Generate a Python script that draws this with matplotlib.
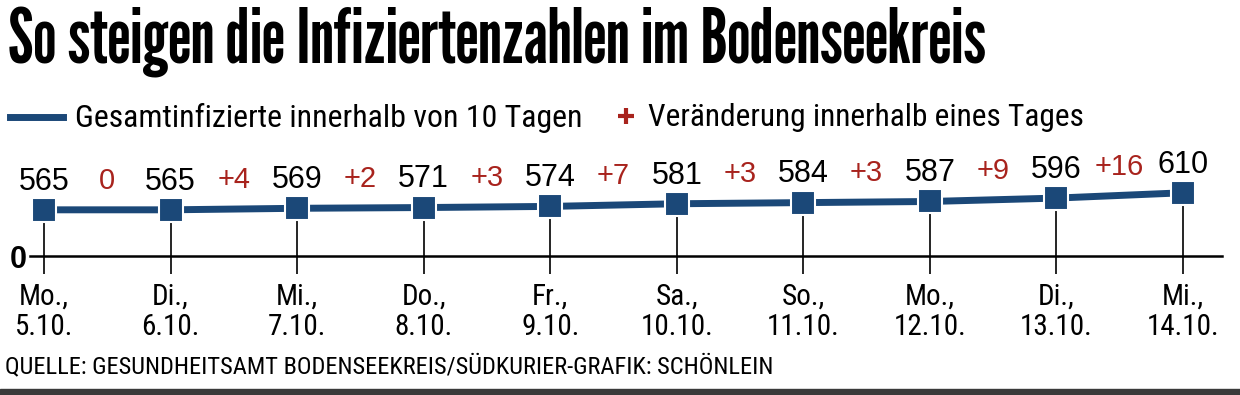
import matplotlib
matplotlib.use("Agg")
import matplotlib.pyplot as plt
from matplotlib import font_manager as fm
from matplotlib.lines import Line2D
from matplotlib.patches import Rectangle

# Werte aus der Grafik
days = ["Mo.,", "Di.,", "Mi.,", "Do.,", "Fr.,", "Sa.,", "So.,", "Mo.,", "Di.,", "Mi.,"]
dates = ["5.10.", "6.10.", "7.10.", "8.10.", "9.10.", "10.10.", "11.10.", "12.10.", "13.10.", "14.10."]
totals = [565, 565, 569, 571, 574, 581, 584, 587, 596, 610]
changes = ["0", "+4", "+2", "+3", "+7", "+3", "+3", "+9", "+16"]

title = "So steigen die Infiziertenzahlen im Bodenseekreis"
legend_total = "Gesamtinfizierte innerhalb von 10 Tagen"
legend_change = "Veränderung innerhalb eines Tages"
source = "QUELLE: GESUNDHEITSAMT BODENSEEKREIS/SÜDKURIER-GRAFIK: SCHÖNLEIN"

NAVY = "#1b4878"
RED = "#a8231d"

installed = {f.name for f in fm.fontManager.ttflist}


def pick(*names):
    return [n for n in names if n in installed] + ["DejaVu Sans"]


HEAD = pick("League Gothic", "Oswald", "Fira Sans Extra Condensed")
NARROW = pick("Roboto Condensed", "Fira Sans Condensed", "Archivo Narrow")
REGULAR = pick("Liberation Sans", "Arimo")

W, H = 1240, 395
fig = plt.figure(figsize=(W / 100, H / 100), dpi=100)
fig.patch.set_facecolor("white")

# Achse: Grundlinie bei y=256 px, gebrochene Skala (unten als "0" beschriftet)
ax = fig.add_axes([30 / W, (H - 256) / H, (1222 - 30) / W, 106 / H])
x = list(range(len(totals)))
ax.set_xlim(-0.111, 9.308)
ax.set_ylim(443, 723)

ax.vlines(x, 443, totals, color="black", lw=1.2, zorder=1)
ax.plot(x, totals, color=NAVY, lw=5, marker="s", ms=17,
        mec="white", mew=1.5, zorder=3)

for i, v in enumerate(totals):
    ax.annotate(str(v), (i, v), xytext=(0, 14.5), textcoords="offset points",
                ha="center", va="baseline", fontsize=22, family=REGULAR,
                color="black")
for i, c in enumerate(changes):
    xm = (x[i] + x[i + 1]) / 2
    ym = (totals[i] + totals[i + 1]) / 2
    ax.annotate(c, (xm, ym), xytext=(0, 15), textcoords="offset points",
                ha="center", va="baseline", fontsize=21, family=REGULAR,
                color=RED)

for s in ["top", "right", "left"]:
    ax.spines[s].set_visible(False)
ax.spines["bottom"].set_linewidth(1.8)
ax.set_yticks([])
ax.set_xticks(x)
ax.set_xticklabels([f"{d}\n{dt}" for d, dt in zip(days, dates)],
                   fontsize=21, family=NARROW, linespacing=1.1)
ax.tick_params(axis="x", length=13, width=1.2, direction="out", pad=6)
ax.patch.set_alpha(0)

fig.text(27 / W, 1 - 256 / H, "0", ha="right", va="center_baseline",
         fontsize=22, fontweight="bold", family=REGULAR)

texts = []
t_title = fig.text(8 / W, 1 - 63 / H, title, ha="left", va="baseline",
                   fontsize=50, family=HEAD)
texts.append((t_title, 985 - 8))

# Legende
fig.add_artist(Line2D([10 / W, 63 / W], [1 - 117 / H] * 2, color=NAVY, lw=5,
                      transform=fig.transFigure))
t_leg1 = fig.text(75 / W, 1 - 127 / H, legend_total, ha="left", va="baseline",
                  fontsize=21, family=NARROW)
texts.append((t_leg1, 582 - 75))
fig.add_artist(Line2D([626 / W], [1 - 116 / H], marker="+", ms=11, mew=3,
                      color=RED, transform=fig.transFigure))
t_leg2 = fig.text(648 / W, 1 - 126 / H, legend_change, ha="left", va="baseline",
                  fontsize=21, family=NARROW)
texts.append((t_leg2, 1083 - 648))

t_src = fig.text(5 / W, 1 - 373 / H, source, ha="left", va="baseline",
                 fontsize=17, family=NARROW)
texts.append((t_src, 772 - 5))

# Schriftgroessen an die Breiten im Original anpassen
fig.canvas.draw()
rend = fig.canvas.get_renderer()
for t, target in texts:
    bb = t.get_window_extent(rend)
    t.set_fontsize(t.get_fontsize() * target / bb.width)

fig.add_artist(Rectangle((0, 0), 1, 6 / H, transform=fig.transFigure,
                         color="#3a3a3a"))

fig.savefig("out.png", dpi=100)
